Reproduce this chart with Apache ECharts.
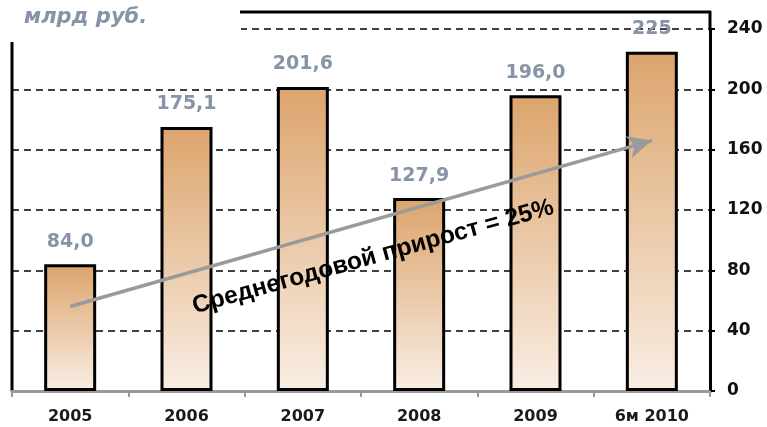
<!DOCTYPE html>
<html><head><meta charset="utf-8">
<script src="https://cdn.jsdelivr.net/npm/echarts@6/dist/echarts.min.js"></script>
<style>html,body{margin:0;padding:0;background:#fff}#c{width:767px;height:427px}</style>
</head><body><div id="c"></div>
<script>
const categories = ['2005','2006','2007','2008','2009','6м 2010'];
const values = [84.0, 175.1, 201.6, 127.9, 196.0, 225];
const valueLabels = ['84,0','175,1','201,6','127,9','196,0','225'];
const trendStart = ['2005', 56];
const trendEnd = ['6м 2010', 166];
const yTicks = {min: 0, max: 240, interval: 40};
const unitText = 'млрд руб.';
const trendText = 'Среднегодовой прирост = 25%';

const chart = echarts.init(document.getElementById('c'));
chart.setOption({
  animation: false,
  grid: {left: 12, right: 57, top: 29, bottom: 36},
  xAxis: {
    type: 'category', data: categories,
    axisLine: {lineStyle: {color: '#9a9a9a', width: 3}},
    axisTick: {show: true, length: 6, lineStyle: {color: '#9a9a9a', width: 2}},
    axisLabel: {color: '#1a1a1a', fontWeight: 'bold', fontSize: 16, fontFamily: 'DejaVu Sans', margin: 18}
  },
  yAxis: {
    type: 'value', position: 'right', min: yTicks.min, max: yTicks.max, interval: yTicks.interval,
    axisLine: {show: true, lineStyle: {color: '#000', width: 3}},
    axisTick: {show: true, length: 5, lineStyle: {color: '#000', width: 2}},
    axisLabel: {color: '#111', fontWeight: 'bold', fontSize: 17, fontFamily: 'DejaVu Sans', margin: 17},
    splitLine: {show: true, lineStyle: {color: '#000', type: [7, 5], width: 1.5}}
  },
  series: [{
    type: 'bar', data: values, barWidth: 52,
    itemStyle: {
      borderColor: '#000', borderWidth: 3,
      color: new echarts.graphic.LinearGradient(0, 0, 0, 1, [
        {offset: 0, color: '#DCA46C'}, {offset: 1, color: '#F9EEE4'}
      ])
    },
    label: {
      show: true, position: 'top', distance: 13,
      formatter: p => valueLabels[p.dataIndex],
      color: '#8793A6', fontWeight: 'bold', fontSize: 19, fontFamily: 'DejaVu Sans'
    },
    markLine: {
      silent: true, symbol: ['none', 'arrow'], symbolSize: [17, 24], z: 5,
      label: {show: false},
      lineStyle: {color: '#9a9a9a', width: 3.5, type: 'solid'},
      data: [[{coord: trendStart}, {coord: trendEnd}]]
    }
  }],
  graphic: [
    {type: 'line', shape: {x1: 240, y1: 12, x2: 711, y2: 12}, style: {stroke: '#000', lineWidth: 3}},
    {type: 'line', shape: {x1: 710, y1: 11, x2: 710, y2: 30}, style: {stroke: '#000', lineWidth: 3}},
    {type: 'line', shape: {x1: 12, y1: 42, x2: 12, y2: 391}, style: {stroke: '#000', lineWidth: 3}},
    {type: 'rect', z: 1, shape: {x: 0, y: 22, width: 241, height: 12}, style: {fill: '#fff'}},
    {type: 'text', z: 10, left: 24, top: 7, style: {text: unitText, fill: '#8793A6', font: 'italic bold 21px "DejaVu Sans"'}},
    {type: 'text', z: 100, x: 373, y: 257, rotation: 15.5 * Math.PI / 180,
      style: {text: trendText, fill: '#000', font: 'bold 24.5px "Liberation Sans Narrow", "Liberation Sans"', align: 'center', verticalAlign: 'middle'}}
  ]
});
</script></body></html>
